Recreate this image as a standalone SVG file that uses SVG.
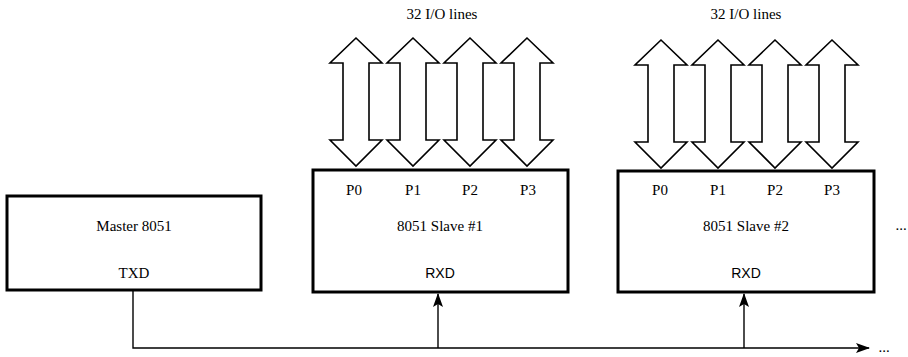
<svg xmlns="http://www.w3.org/2000/svg" width="908" height="357" viewBox="0 0 908 357">
<style>
.box{fill:#fff;stroke:#000;stroke-width:3}
.t{font-family:"Liberation Serif",serif;font-size:15px;fill:#000;text-anchor:middle}
.s{font-family:"Liberation Sans",sans-serif;font-size:14px;fill:#000;text-anchor:middle}
.io{fill:#fff;stroke:#000;stroke-width:1.6;stroke-linejoin:miter}
.wire{fill:none;stroke:#000;stroke-width:1.4}
</style>
<defs>
<marker id="ah" markerWidth="14" markerHeight="10" refX="13" refY="5" orient="auto" markerUnits="userSpaceOnUse">
<path d="M0,0 L14,5 L0,10 L3,5 Z" fill="#000"/>
</marker>
<path id="dbl" d="M0,0 L-26,25 L-13,25 L-13,102 L-26,102 L0,128 L26,102 L13,102 L13,25 L26,25 Z"/>
</defs>
<g id="master">
<rect class="box" x="7" y="196" width="254" height="94"/>
<text class="t" x="134" y="231">Master 8051</text>
<text class="t" x="134" y="278">TXD</text>
</g>
<g id="slave1">
<text class="t" x="442" y="19">32 I/O lines</text>
<use href="#dbl" class="io" x="356" y="38"/>
<use href="#dbl" class="io" x="413" y="38"/>
<use href="#dbl" class="io" x="470" y="38"/>
<use href="#dbl" class="io" x="527" y="38"/>
<rect class="box" x="313" y="170" width="255" height="122"/>
<text class="t" x="354" y="195">P0</text>
<text class="t" x="413" y="195">P1</text>
<text class="t" x="470" y="195">P2</text>
<text class="t" x="528" y="195">P3</text>
<text class="t" x="440" y="231">8051 Slave #1</text>
<text class="s" x="440" y="278">RXD</text>
</g>
<g id="slave2">
<text class="t" x="746" y="19">32 I/O lines</text>
<use href="#dbl" class="io" x="661" y="40"/>
<use href="#dbl" class="io" x="718" y="40"/>
<use href="#dbl" class="io" x="775" y="40"/>
<use href="#dbl" class="io" x="832" y="40"/>
<rect class="box" x="618" y="171" width="256" height="121"/>
<text class="t" x="660" y="195">P0</text>
<text class="t" x="718" y="195">P1</text>
<text class="t" x="775" y="195">P2</text>
<text class="t" x="832" y="195">P3</text>
<text class="t" x="746" y="231">8051 Slave #2</text>
<text class="s" x="746" y="278">RXD</text>
</g>
<g id="more">
<text class="t" x="901" y="230">...</text>
<text class="t" x="884" y="352">...</text>
</g>
<g id="connectors">
<path class="wire" d="M133,290 L133,348 L869,348" marker-end="url(#ah)"/>
<path class="wire" d="M438,348 L438,294" marker-end="url(#ah)"/>
<path class="wire" d="M744,348 L744,294" marker-end="url(#ah)"/>
</g>
</svg>
